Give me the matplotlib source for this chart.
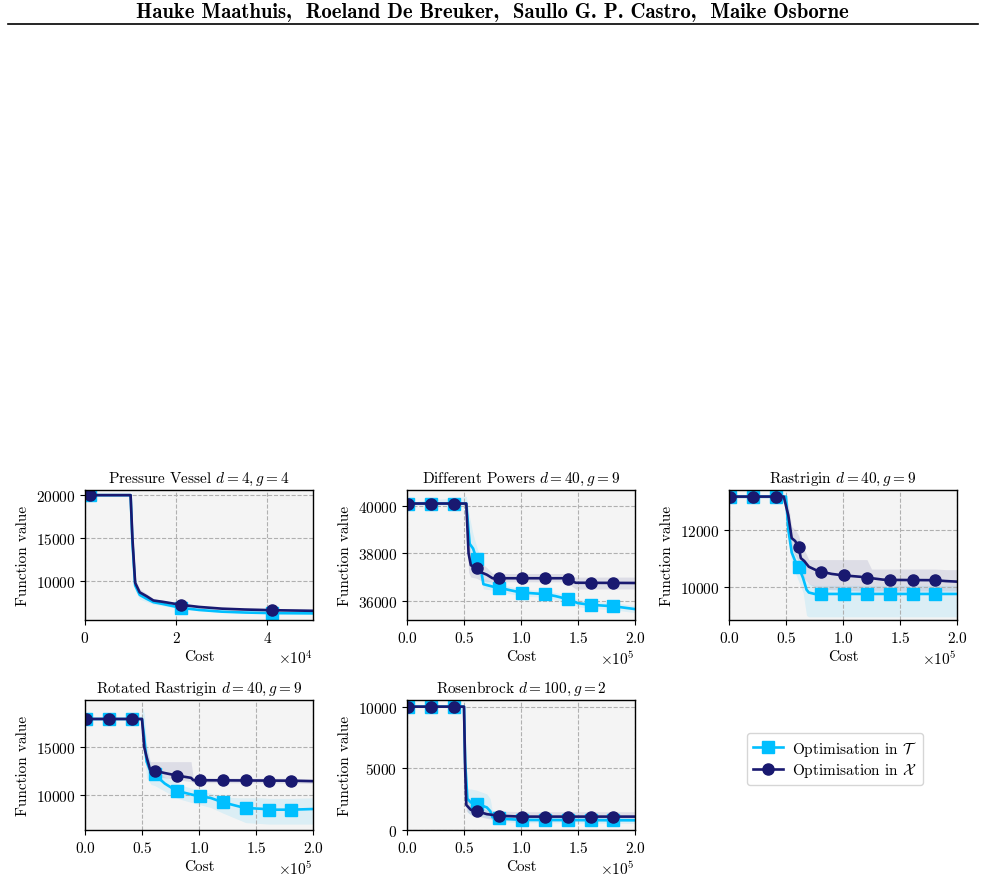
import numpy as np
import matplotlib
matplotlib.use("Agg")
import matplotlib.pyplot as plt

plt.rcParams['font.family'] = 'cmr10'
plt.rcParams['mathtext.fontset'] = 'cm'
plt.rcParams['axes.formatter.use_mathtext'] = True
plt.rcParams['font.size'] = 11

# cost values are in thousands of evaluations
# --- Pressure Vessel
pv_x_cost = [0, 10, 10.4, 11, 12, 13.5, 15, 17, 21, 25, 30, 35, 41, 50]
pv_x = [20000, 20000, 15000, 9800, 8700, 8250, 7750, 7600, 7250, 7000, 6800, 6700, 6620, 6550]
pv_x_lo = [19950, 19950, 14000, 9300, 8300, 7950, 7550, 7450, 7150, 6900, 6720, 6630, 6560, 6500]
pv_x_hi = [20050, 20050, 16000, 10300, 9100, 8550, 7950, 7750, 7350, 7100, 6880, 6770, 6680, 6600]
pv_t_cost = pv_x_cost
pv_t = [20000, 20000, 14500, 9500, 8400, 7950, 7550, 7350, 6900, 6650, 6450, 6350, 6280, 6250]
pv_t_lo = [19950, 19950, 13500, 8900, 7900, 7600, 7300, 7150, 6750, 6550, 6380, 6300, 6230, 6200]
pv_t_hi = [20050, 20050, 15500, 10000, 8800, 8250, 7800, 7550, 7050, 6750, 6520, 6400, 6330, 6300]

# --- Different Powers
dp_x_cost = [0, 52, 54, 56, 61, 65, 70, 75, 140, 142, 148, 200]
dp_x = [40100, 40100, 38000, 37500, 37370, 37200, 37100, 36950, 36950, 36880, 36760, 36750]
dp_x_lo = [40050, 40050, 37200, 37000, 36950, 36850, 36800, 36800, 36800, 36700, 36500, 36500]
dp_x_hi = [40150, 40150, 38800, 38000, 37800, 37600, 37400, 37150, 37150, 37100, 37000, 37000]
dp_t_cost = [0, 52, 55, 58, 61, 65, 67, 75, 81, 90, 100, 121, 130, 141, 150, 161, 181, 200]
dp_t = [40100, 40100, 38400, 38200, 37760, 37300, 36700, 36600, 36550, 36450, 36350, 36280,
        36200, 36070, 35900, 35830, 35770, 35650]
dp_t_lo = [40050, 40050, 37800, 37600, 37300, 36900, 36500, 36450, 36400, 36300, 36200, 36150,
           36050, 35900, 35750, 35680, 35620, 35500]
dp_t_hi = [40150, 40400, 39500, 38800, 38300, 37700, 36950, 36800, 36700, 36600, 36500, 36420,
           36350, 36230, 36060, 35980, 35920, 35800]

# --- Rastrigin
ra_x_cost = [0, 48, 52, 55, 58, 61, 63, 66, 70, 78, 90, 100, 115, 121, 125, 135, 141, 181, 190, 200]
ra_x = [13150, 13150, 12500, 11700, 11600, 11400, 11000, 10900, 10700, 10550, 10450, 10400,
        10350, 10320, 10300, 10250, 10240, 10230, 10200, 10180]
ra_x_lo = [13100, 13100, 12100, 11300, 11100, 10900, 10500, 10300, 10100, 9950, 9900, 9880,
           9850, 9850, 9850, 9850, 9850, 9850, 9850, 9850]
ra_x_hi = [13200, 13200, 12900, 12100, 12000, 11800, 11500, 11300, 10950, 10950, 10950, 10950,
           10950, 10950, 10620, 10620, 10620, 10620, 10600, 10600]
ra_t_cost = [0, 50, 52, 55, 58, 60, 65, 68, 70, 75, 200]
ra_t = [13150, 13150, 12000, 11200, 10900, 10800, 10300, 9900, 9800, 9750, 9750]
ra_t_lo = [13100, 13100, 11700, 10800, 10500, 10300, 9800, 9000, 8950, 8950, 8950]
ra_t_hi = [13200, 13200, 12400, 11600, 11200, 11100, 10500, 10150, 10100, 10050, 10050]

# --- Rotated Rastrigin
rr_x_cost = [0, 50, 52, 54, 57, 61, 70, 81, 93, 95, 181, 200]
rr_x = [17970, 17970, 15000, 14000, 12700, 12550, 12300, 12030, 11800, 11550, 11500, 11450]
rr_x_lo = [17900, 17900, 14000, 13000, 12000, 11900, 11800, 11600, 11400, 11300, 11250, 11200]
rr_x_hi = [18050, 18050, 16000, 15000, 13500, 13500, 13500, 13500, 13500, 11800, 11750, 11700]
rr_t_cost = [0, 49, 50, 52, 54, 58, 61, 70, 80, 85, 100, 110, 121, 135, 141, 155, 161, 181, 200]
rr_t = [17970, 17970, 17970, 16000, 13500, 12300, 12150, 11200, 10450, 10300, 9860, 9700, 9230,
        8800, 8640, 8550, 8460, 8460, 8530]
rr_t_lo = [17900, 17900, 17900, 15000, 11800, 11100, 11000, 10400, 9700, 9500, 9000, 8700, 8100,
           7400, 7100, 7000, 6950, 6950, 6950]
rr_t_hi = [18050, 18050, 19300, 18500, 15500, 13000, 12800, 11900, 11300, 11000, 10500, 10200,
           9800, 9700, 9700, 9700, 9650, 9650, 9700]

# --- Rosenbrock
rb_x_cost = [0, 50, 51, 52, 56, 61, 70, 81, 100, 200]
rb_x = [10000, 10000, 5000, 2000, 1600, 1500, 1250, 1120, 1050, 1050]
rb_x_lo = [9950, 9950, 4000, 1500, 1200, 1100, 900, 750, 700, 700]
rb_x_hi = [10050, 10050, 6000, 2500, 2000, 1900, 1600, 1500, 1450, 1450]
rb_t_cost = [0, 50, 51, 53, 56, 61, 70, 73, 75, 81, 100, 200]
rb_t = [10000, 10000, 5500, 2500, 2200, 2100, 1800, 1500, 1000, 900, 780, 750]
rb_t_lo = [9950, 9950, 4000, 1400, 1200, 1100, 1000, 900, 750, 650, 550, 500]
rb_t_hi = [10050, 10050, 7000, 3300, 3300, 3200, 2900, 2500, 1400, 1200, 1050, 1000]

panels = [
    ("Pressure Vessel $d=4, g=4$", 50, (5480, 20600), [10000, 15000, 20000],
     (pv_t_cost, pv_t, pv_t_lo, pv_t_hi), (pv_x_cost, pv_x, pv_x_lo, pv_x_hi)),
    ("Different Powers $d=40, g=9$", 200, (35190, 40670), [36000, 38000, 40000],
     (dp_t_cost, dp_t, dp_t_lo, dp_t_hi), (dp_x_cost, dp_x, dp_x_lo, dp_x_hi)),
    ("Rastrigin $d=40, g=9$", 200, (8840, 13380), [10000, 12000],
     (ra_t_cost, ra_t, ra_t_lo, ra_t_hi), (ra_x_cost, ra_x, ra_x_lo, ra_x_hi)),
    ("Rotated Rastrigin $d=40, g=9$", 200, (6330, 19960), [10000, 15000],
     (rr_t_cost, rr_t, rr_t_lo, rr_t_hi), (rr_x_cost, rr_x, rr_x_lo, rr_x_hi)),
    ("Rosenbrock $d=100, g=2$", 200, (-40, 10540), [0, 5000, 10000],
     (rb_t_cost, rb_t, rb_t_lo, rb_t_hi), (rb_x_cost, rb_x, rb_x_lo, rb_x_hi)),
]

col_t = '#00bfff'
col_x = '#191970'

W, H = 984, 879
fig = plt.figure(figsize=(W / 100, H / 100), dpi=100)

fig.text(0.5, 1 - 13 / H, "Hauke Maathuis,  Roeland De Breuker,  Saullo G. P. Castro,  Maike Osborne",
         ha='center', va='center', fontsize=14.9, family='cmb10')
fig.add_artist(plt.Line2D([8 / W, 978 / W], [1 - 25 / H, 1 - 25 / H], color='black', lw=1.2))

lefts = [85, 407, 729]
tops = [491, 701]
aw, ah = 228, 130


def series(ax, data, color, marker, label):
    cost, vals, lo, hi = data
    cost = np.array(cost, float)
    mk = np.arange(1, cost[-1], 20.0)
    grid = np.union1d(cost, mk)
    y = np.interp(grid, cost, vals)
    idx = [int(np.where(grid == m)[0][0]) for m in mk]
    ax.fill_between(cost * 1000, lo, hi, color=color, alpha=0.1, lw=0)
    ax.plot(grid * 1000, y, color=color, lw=1.9, marker=marker, markersize=8,
            markevery=idx, label=label)


for i, (title, xmax, ylim, yt, tdata, xdata) in enumerate(panels):
    r, c = divmod(i, 3)
    ax = fig.add_axes([lefts[c] / W, 1 - (tops[r] + ah) / H, aw / W, ah / H])
    ax.set_facecolor('#f4f4f4')
    series(ax, tdata, col_t, 's', r'Optimisation in $\mathcal{T}$')
    series(ax, xdata, col_x, 'o', r'Optimisation in $\mathcal{X}$')
    ax.set_xlim(0, xmax * 1000)
    ax.set_ylim(*ylim)
    ax.set_yticks(yt)
    ax.ticklabel_format(axis='x', style='sci', scilimits=(0, 0), useMathText=True)
    ax.grid(True, ls='--', color='#b0b0b0', lw=0.8)
    for s in ax.spines.values():
        s.set_linewidth(1.0)
    ax.set_title(title, fontsize=11)
    ax.set_xlabel('Cost', labelpad=3)
    ax.set_ylabel('Function value')
    if i == 0:
        handles, labels = ax.get_legend_handles_labels()

fig.legend(handles, labels, loc='center', bbox_to_anchor=(835 / W, 1 - 760 / H), fontsize=11,
           labelspacing=0.25, borderpad=0.35, handletextpad=0.6)

fig.savefig('out.png', dpi=100)
